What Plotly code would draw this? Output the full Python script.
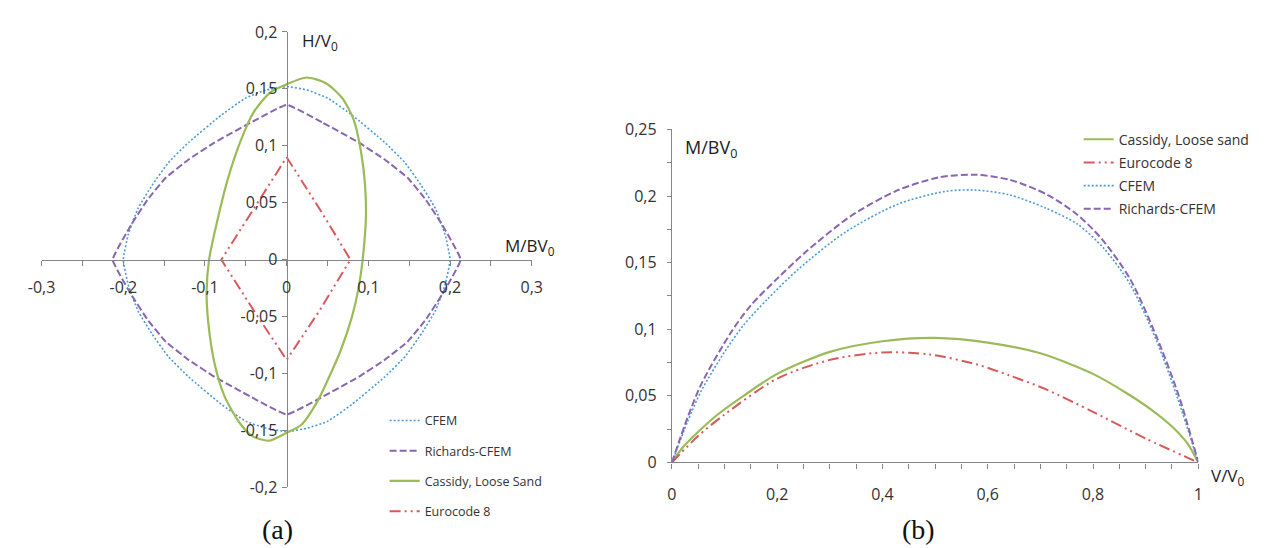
import plotly.graph_objects as go

# ---------------- Panel (a): H/V0 versus M/BV0 ----------------
cfem_a_x = [0, 0.025, 0.05, 0.08, 0.12, 0.145, 0.165, 0.182, 0.194, 0.2, 0.194, 0.182, 0.165, 0.145, 0.12, 0.08, 0.05, 0.025, 0,
            -0.025, -0.05, -0.08, -0.12, -0.145, -0.165, -0.182, -0.194, -0.2, -0.194, -0.182, -0.165, -0.145, -0.12, -0.08, -0.05, -0.025, 0]
cfem_a_y = [0.152, 0.149, 0.142, 0.127, 0.103, 0.085, 0.065, 0.045, 0.022, 0, -0.022, -0.045, -0.065, -0.085, -0.103, -0.127, -0.142, -0.148, -0.151,
            -0.148, -0.142, -0.127, -0.103, -0.085, -0.065, -0.045, -0.022, 0, 0.022, 0.045, 0.065, 0.085, 0.103, 0.127, 0.142, 0.149, 0.152]

rich_a_x = [0, 0.045, 0.088, 0.12, 0.148, 0.17, 0.19, 0.213, 0.19, 0.17, 0.148, 0.12, 0.088, 0.045, 0,
            -0.045, -0.088, -0.12, -0.148, -0.17, -0.19, -0.213, -0.19, -0.17, -0.148, -0.12, -0.088, -0.045, 0]
rich_a_y = [0.136, 0.12, 0.103, 0.088, 0.072, 0.053, 0.031, 0, -0.031, -0.053, -0.072, -0.088, -0.103, -0.12, -0.136,
            -0.12, -0.103, -0.088, -0.072, -0.053, -0.031, 0, 0.031, 0.053, 0.072, 0.088, 0.103, 0.12, 0.136]

cass_a_x = [0.024, 0.048, 0.068, 0.082, 0.091, 0.096, 0.097, 0.093, 0.088, 0.08, 0.066, 0.052, 0.038, 0.018, 0.0,
            -0.022, -0.042, -0.058, -0.076, -0.088, -0.096, -0.098, -0.095, -0.084, -0.072, -0.056, -0.04, -0.02, 0.0, 0.024]
cass_a_y = [0.160, 0.155, 0.142, 0.123, 0.095, 0.065, 0.037, 0.0, -0.025, -0.05, -0.08, -0.103, -0.124, -0.145, -0.152,
            -0.159, -0.155, -0.143, -0.12, -0.092, -0.055, -0.028, 0.0, 0.037, 0.071, 0.105, 0.130, 0.147, 0.154, 0.160]

ec8_a_x = [0, 0.04, 0.078, 0.04, 0, -0.04, -0.08, -0.04, 0]
ec8_a_y = [0.09, 0.045, 0, -0.045, -0.088, -0.045, 0, 0.045, 0.09]

a_xtick_vals = [-0.3, -0.2, -0.1, 0, 0.1, 0.2, 0.3]
a_xtick_text = ["-0,3", "-0,2", "-0,1", "0", "0,1", "0,2", "0,3"]
a_xminor = [-0.25, -0.15, -0.05, 0.05, 0.15, 0.25]
a_ytick_vals = [-0.2, -0.15, -0.1, -0.05, 0, 0.05, 0.1, 0.15, 0.2]
a_ytick_text = ["-0,2", "-0,15", "-0,1", "-0,05", "0", "0,05", "0,1", "0,15", "0,2"]

# ---------------- Panel (b): M/BV0 versus V/V0 ----------------
cass_b_v = [0, 0.02, 0.05, 0.087, 0.136, 0.2, 0.3, 0.4, 0.5, 0.6, 0.7, 0.8, 0.864, 0.913, 0.95, 0.98, 1.0]
cass_b_m = [0, 0.011, 0.023, 0.036, 0.05, 0.0665, 0.083, 0.091, 0.0935, 0.09, 0.082, 0.0665, 0.052, 0.039, 0.027, 0.014, 0]

ec8_b_v = [0, 0.05, 0.1, 0.2, 0.3, 0.4, 0.49, 0.58, 0.64, 0.71, 0.8, 0.9, 1.0]
ec8_b_m = [0, 0.02, 0.036, 0.063, 0.077, 0.0826, 0.081, 0.0735, 0.0655, 0.055, 0.038, 0.018, 0]

cfem_b_v = [0, 0.03, 0.056, 0.1, 0.136, 0.18, 0.24, 0.33, 0.43, 0.52, 0.575, 0.64, 0.71, 0.77, 0.82, 0.87, 0.92, 0.96, 1.0]
cfem_b_m = [0, 0.031, 0.054, 0.083, 0.103, 0.122, 0.145, 0.173, 0.194, 0.2035, 0.2045, 0.201, 0.191, 0.179, 0.161, 0.134, 0.092, 0.049, 0]

rich_b_v = [0, 0.03, 0.056, 0.112, 0.15, 0.2, 0.254, 0.34, 0.427, 0.507, 0.575, 0.643, 0.713, 0.77, 0.816, 0.87, 0.92, 0.963, 1.0]
rich_b_m = [0, 0.034, 0.059, 0.0975, 0.118, 0.138, 0.158, 0.185, 0.204, 0.214, 0.216, 0.212, 0.201, 0.186, 0.168, 0.138, 0.095, 0.05, 0]

b_xtick_vals = [0, 0.2, 0.4, 0.6, 0.8, 1.0]
b_xtick_text = ["0", "0,2", "0,4", "0,6", "0,8", "1"]
b_xminor = [0.05, 0.1, 0.15, 0.25, 0.3, 0.35, 0.45, 0.5, 0.55, 0.65, 0.7, 0.75, 0.85, 0.9, 0.95]
b_ytick_vals = [0, 0.05, 0.1, 0.15, 0.2, 0.25]
b_ytick_text = ["0", "0,05", "0,1", "0,15", "0,2", "0,25"]
b_yminor = [0.025, 0.075, 0.125, 0.175, 0.225]

BLUE = "#4A9BD6"
PURPLE = "#8866B0"
GREEN = "#9BBB59"
RED = "#D9595A"
AXC = "#868686"
TXT = "#333333"

ec8_dash = "11px,4px,2px,4px,2px,4px"

fig = go.Figure()

# panel (a)
fig.add_trace(go.Scatter(x=cfem_a_x, y=cfem_a_y, mode="lines", name="CFEM", xaxis="x", yaxis="y",
                         line=dict(color=BLUE, width=1.6, dash="2px,2px", shape="spline", smoothing=0.4),
                         legend="legend", legendgroup="a1"))
fig.add_trace(go.Scatter(x=rich_a_x, y=rich_a_y, mode="lines", name="Richards-CFEM", xaxis="x", yaxis="y",
                         line=dict(color=PURPLE, width=2, dash="7px,3px", shape="spline", smoothing=0.3),
                         legend="legend", legendgroup="a2"))
fig.add_trace(go.Scatter(x=cass_a_x, y=cass_a_y, mode="lines", name="Cassidy, Loose Sand", xaxis="x", yaxis="y",
                         line=dict(color=GREEN, width=2.2, shape="spline", smoothing=0.7),
                         legend="legend", legendgroup="a3"))
fig.add_trace(go.Scatter(x=ec8_a_x, y=ec8_a_y, mode="lines", name="Eurocode 8", xaxis="x", yaxis="y",
                         line=dict(color=RED, width=2, dash=ec8_dash), legend="legend", legendgroup="a4"))

# panel (b)
fig.add_trace(go.Scatter(x=cass_b_v, y=cass_b_m, mode="lines", name="Cassidy, Loose sand", xaxis="x2", yaxis="y2",
                         line=dict(color=GREEN, width=2.2, shape="spline", smoothing=0.8),
                         legend="legend2", legendgroup="b1"))
fig.add_trace(go.Scatter(x=ec8_b_v, y=ec8_b_m, mode="lines", name="Eurocode 8", xaxis="x2", yaxis="y2",
                         line=dict(color=RED, width=2, dash=ec8_dash, shape="spline", smoothing=0.8),
                         legend="legend2", legendgroup="b2"))
fig.add_trace(go.Scatter(x=cfem_b_v, y=cfem_b_m, mode="lines", name="CFEM", xaxis="x2", yaxis="y2",
                         line=dict(color=BLUE, width=1.6, dash="2px,2px", shape="spline", smoothing=0.8),
                         legend="legend2", legendgroup="b3"))
fig.add_trace(go.Scatter(x=rich_b_v, y=rich_b_m, mode="lines", name="Richards-CFEM", xaxis="x2", yaxis="y2",
                         line=dict(color=PURPLE, width=2, dash="7px,3px", shape="spline", smoothing=0.8),
                         legend="legend2", legendgroup="b4"))

tickfont = dict(family="Open Sans", size=16, color=TXT)

fig.update_layout(
    width=1267, height=548,
    margin=dict(l=0, r=0, t=0, b=0),
    paper_bgcolor="white", plot_bgcolor="white",
    font=dict(family="Open Sans", size=16, color=TXT),
    xaxis=dict(domain=[0.01579, 0.4104], range=[-0.3, 0.3], anchor="free", position=0.5425,
               showgrid=False, zeroline=False, showline=True, linecolor=AXC, linewidth=1.3,
               ticks="outside", ticklen=5, tickcolor=AXC, tickwidth=1.2,
               tickmode="array", tickvals=a_xtick_vals, ticktext=a_xtick_text, tickfont=tickfont,
               ticklabelstandoff=8,
               minor=dict(tickmode="array", tickvals=a_xminor, ticks="outside", ticklen=5, tickcolor=AXC, tickwidth=1.2)),
    yaxis=dict(domain=[0.1095, 0.9754], range=[-0.2, 0.2], anchor="free", position=0.2131,
               showgrid=False, zeroline=False, showline=True, linecolor=AXC, linewidth=1.3,
               ticks="outside", ticklen=5, tickcolor=AXC, tickwidth=1.2,
               tickmode="array", tickvals=a_ytick_vals, ticktext=a_ytick_text, tickfont=tickfont,
               ticklabelstandoff=1),
    xaxis2=dict(domain=[0.5233, 0.9471], range=[0, 1], anchor="y2",
                showgrid=False, zeroline=False, showline=True, linecolor=AXC, linewidth=1.3,
                ticks="outside", ticklen=5, tickcolor=AXC, tickwidth=1.2,
                tickmode="array", tickvals=b_xtick_vals, ticktext=b_xtick_text, tickfont=tickfont,
                ticklabelstandoff=12,
                minor=dict(tickmode="array", tickvals=b_xminor, ticks="outside", ticklen=5, tickcolor=AXC, tickwidth=1.2)),
    yaxis2=dict(domain=[0.1569, 0.7901], range=[0, 0.25], anchor="x2",
                showgrid=False, zeroline=False, showline=True, linecolor=AXC, linewidth=1.3,
                ticks="outside", ticklen=4, tickcolor=AXC, tickwidth=1.2,
                tickmode="array", tickvals=b_ytick_vals, ticktext=b_ytick_text, tickfont=tickfont,
                ticklabelstandoff=7,
                minor=dict(tickmode="array", tickvals=b_yminor, ticks="outside", ticklen=4, tickcolor=AXC, tickwidth=1.2)),
    legend=dict(x=0.292, y=0.2646, xanchor="left", yanchor="top", bgcolor="rgba(0,0,0,0)",
                font=dict(family="Open Sans", size=12.5, color=TXT), traceorder="grouped", tracegroupgap=11,
                itemwidth=30),
    legend2=dict(x=0.8508, y=0.801, xanchor="left", yanchor="top", bgcolor="rgba(0,0,0,0)",
                 font=dict(family="Open Sans", size=14, color=TXT), traceorder="grouped", tracegroupgap=2,
                 itemwidth=30),
    showlegend=True,
)

ann_font = dict(family="Open Sans", size=17, color="#222222")
fig.add_annotation(text="H/V<sub>0</sub>", xref="paper", yref="paper", x=0.2242, y=0.958,
                   xanchor="left", yanchor="middle", showarrow=False, font=ann_font)
fig.add_annotation(text="M/BV<sub>0</sub>", xref="paper", yref="paper", x=0.3875, y=0.5675,
                   xanchor="left", yanchor="middle", showarrow=False, font=ann_font)
fig.add_annotation(text="M/BV<sub>0</sub>", xref="paper", yref="paper", x=0.532, y=0.7536,
                   xanchor="left", yanchor="middle", showarrow=False,
                   font=dict(family="Open Sans", size=18, color="#222222"))
fig.add_annotation(text="V/V<sub>0</sub>", xref="paper", yref="paper", x=0.9558, y=0.1296,
                   xanchor="left", yanchor="middle", showarrow=False, font=ann_font)
fig.add_annotation(text="(a)", xref="paper", yref="paper", x=261 / 1267, y=(548 - 532) / 548,
                   xanchor="center", yanchor="middle", showarrow=False,
                   font=dict(family="Liberation Serif", size=28, color="#111111"))
fig.add_annotation(text="(b)", xref="paper", yref="paper", x=915 / 1267, y=(548 - 532) / 548,
                   xanchor="center", yanchor="middle", showarrow=False,
                   font=dict(family="Liberation Serif", size=28, color="#111111"))

fig.write_html("out.html")
